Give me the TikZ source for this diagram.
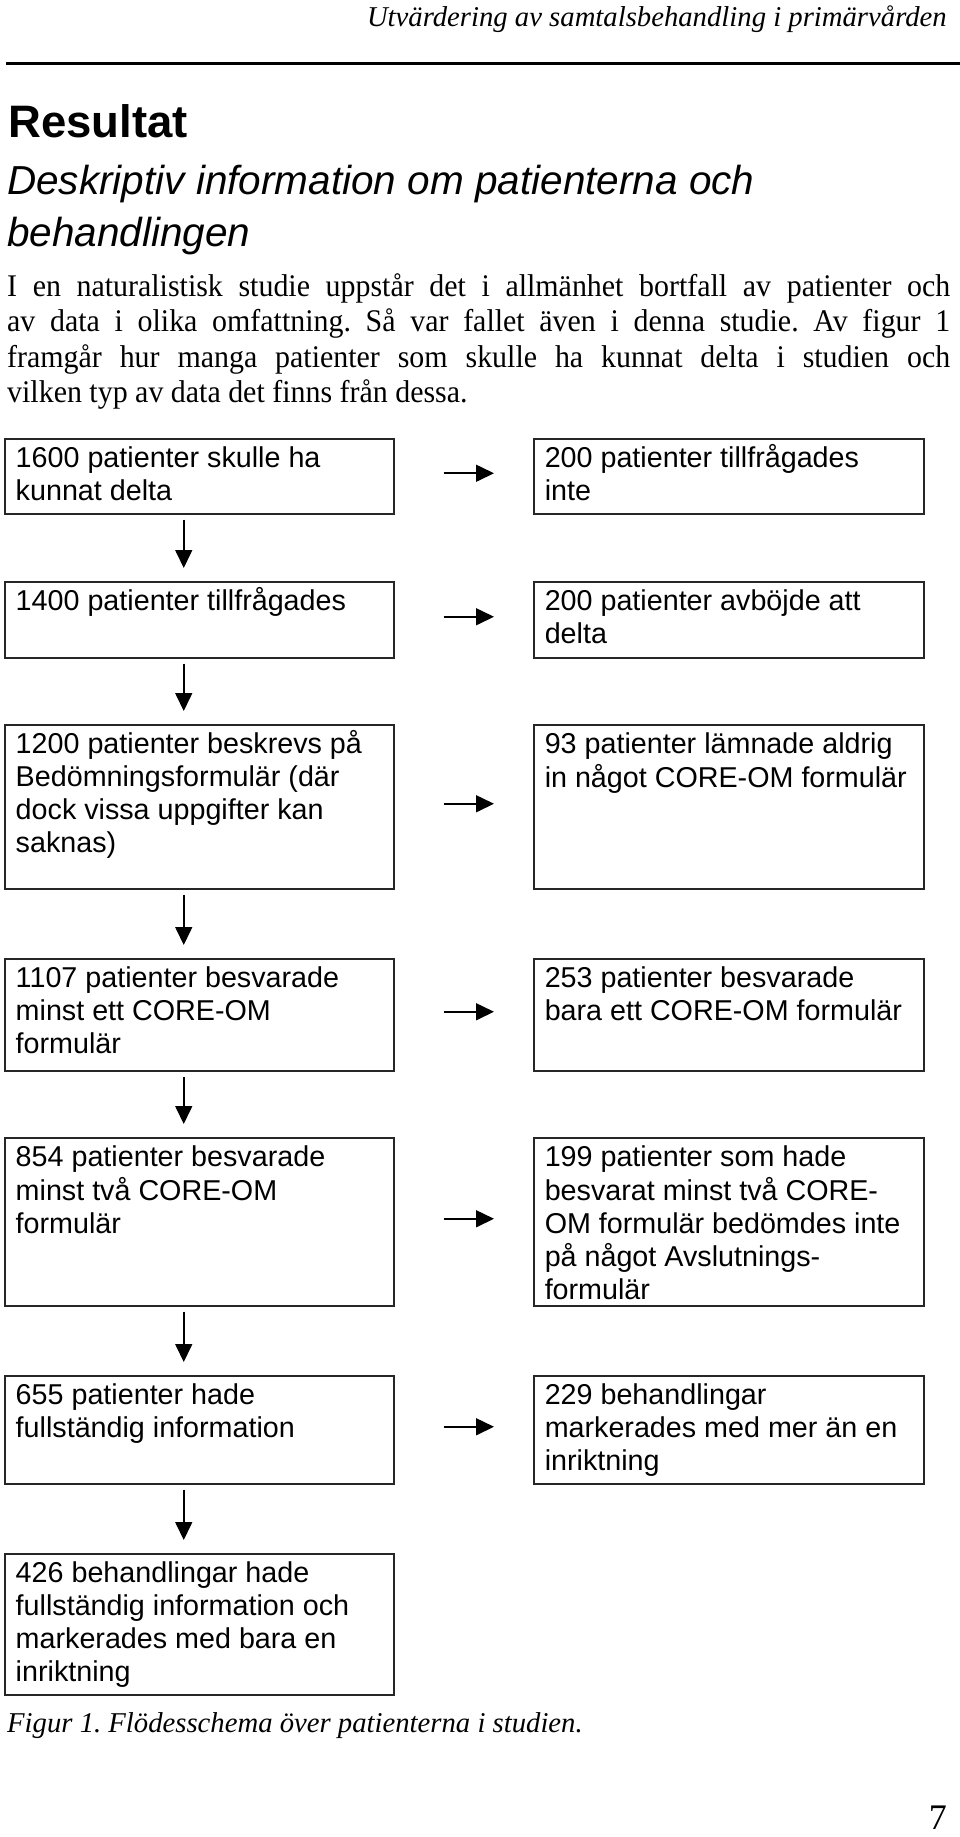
\documentclass[tikz,border=0pt]{standalone}
\usepackage{fontspec}
\setmainfont{Liberation Serif}
\newfontfamily\arialf{Liberation Sans}
\newfontfamily\bodyf[FakeStretch=0.95]{Liberation Serif}
\usetikzlibrary{arrows.meta}
\frenchspacing
\newcommand\flowtext[3]{\parbox[t][#1][t]{#2}{\raggedright\strut #3}}
\begin{document}
\begin{tikzpicture}[x=1pt,y=-1pt,
  flowbox/.style={draw=black!85, line width=1.5pt, anchor=north west, inner xsep=11pt, inner ysep=6pt,
    font=\arialf\fontsize{28.7}{33}\selectfont, align=left},
  flowarrow/.style={line width=1.6pt, -{Triangle[length=18pt,width=17pt]}},
  downarrow/.style={flowarrow, shorten <=5pt, shorten >=13pt},
  rightarrow/.style={flowarrow, shorten <=49pt, shorten >=39pt},
  serif/.style={inner sep=0pt, font=\fontsize{28.7}{33}\selectfont},
  bodyline/.style={inner sep=0pt, anchor=base west, font=\bodyf\fontsize{31.5}{35.5}\selectfont},
]
\useasboundingbox (0,0) rectangle (960,1837);

% header
\node[serif, anchor=base east, font=\itshape\fontsize{28.7}{33}\selectfont] (header) at (947,26)
  {Utvärdering av samtalsbehandling i primärvården};
\draw[line width=3pt] (6,63) -- (960,63);

\node[anchor=base west, inner sep=0pt, font=\arialf\bfseries\fontsize{45.5}{50}\selectfont] (title) at (8,137) {Resultat};
\node[anchor=base west, inner sep=0pt, font=\arialf\itshape\fontsize{40.5}{50}\selectfont] (sub1) at (7,194)
  {Deskriptiv information om patienterna och};
\node[anchor=base west, inner sep=0pt, font=\arialf\itshape\fontsize{40.5}{50}\selectfont] (sub2) at (7,246)
  {behandlingen};

\node[bodyline] (body1) at (7,296)
  {\makebox[943pt][s]{I en naturalistisk studie uppstår det i allmänhet bortfall av patienter och}};
\node[bodyline] (body2) at (7,331.5)
  {\makebox[943pt][s]{av data i olika omfattning. Så var fallet även i denna studie. Av figur 1}};
\node[bodyline] (body3) at (7,367)
  {\makebox[943pt][s]{framgår hur manga patienter som skulle ha kunnat delta i studien och}};
\node[bodyline] (body4) at (7,402.5)
  {vilken typ av data det finns från dessa.};

% left column
\node[flowbox] (L1) at (4,438) {\flowtext{63pt}{367pt}{1600 patienter skulle ha\\kunnat delta}};
\node[flowbox] (L2) at (4,581) {\flowtext{64pt}{367pt}{1400 patienter tillfrågades}};
\node[flowbox] (L3) at (4,724) {\flowtext{152pt}{367pt}{1200 patienter beskrevs på\\Bedömningsformulär (där\\dock vissa uppgifter kan\\saknas)}};
\node[flowbox] (L4) at (4,958) {\flowtext{100pt}{367pt}{1107 patienter besvarade\\minst ett CORE-OM\\formulär}};
\node[flowbox] (L5) at (4,1137) {\flowtext{156pt}{367pt}{854 patienter besvarade\\minst två CORE-OM\\formulär}};
\node[flowbox] (L6) at (4,1375) {\flowtext{96pt}{367pt}{655 patienter hade\\fullständig information}};
\node[flowbox] (L7) at (4,1553) {\flowtext{129pt}{367pt}{426 behandlingar hade\\fullständig information och\\markerades med bara en\\inriktning}};

% right column
\node[flowbox] (R1) at (533,438) {\flowtext{63pt}{368pt}{200 patienter tillfrågades\\inte}};
\node[flowbox] (R2) at (533,581) {\flowtext{64pt}{368pt}{200 patienter avböjde att\\delta}};
\node[flowbox] (R3) at (533,724) {\flowtext{152pt}{368pt}{93 patienter lämnade aldrig\\in något CORE-OM formulär}};
\node[flowbox] (R4) at (533,958) {\flowtext{100pt}{368pt}{253 patienter besvarade\\bara ett CORE-OM formulär}};
\node[flowbox] (R5) at (533,1137) {\flowtext{156pt}{368pt}{199 patienter som hade\\besvarat minst två CORE-\\OM formulär bedömdes inte\\på något Avslutnings-\\formulär}};
\node[flowbox] (R6) at (533,1375) {\flowtext{96pt}{368pt}{229 behandlingar\\markerades med mer än en\\inriktning}};

% down arrows
\foreach \a/\b in {L1/L2,L2/L3,L3/L4,L4/L5,L5/L6,L6/L7}
  \draw[downarrow] ([xshift=-15.5pt]\a.south) -- ([xshift=-15.5pt]\b.north);

% right arrows
\foreach \i in {1,...,6}
  \draw[rightarrow] ([yshift=3pt]L\i.east) -- ([yshift=3pt]R\i.west);

% caption and page number
\node[serif, anchor=base west, font=\itshape\fontsize{28.7}{33}\selectfont] (caption) at (7,1732)
  {Figur 1. Flödesschema över patienterna i studien.};
\node[serif, anchor=base east, font=\fontsize{36}{40}\selectfont] (pagenum) at (947,1829) {7};
\end{tikzpicture}
\end{document}
